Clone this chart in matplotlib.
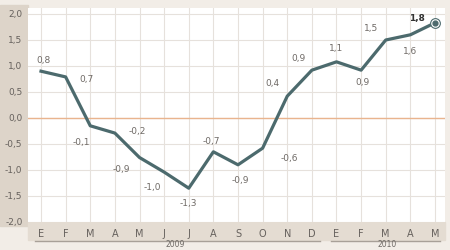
import matplotlib
matplotlib.use("Agg")
import matplotlib.pyplot as plt
from matplotlib.patches import Rectangle
import numpy as np

# data
months = ["E", "F", "M", "A", "M", "J", "J", "A", "S", "O", "N", "D",
          "E", "F", "M", "A", "M"]
values = [0.90, 0.79, -0.15, -0.29, -0.76, -1.04, -1.35, -0.65, -0.90,
          -0.58, 0.42, 0.92, 1.08, 0.92, 1.50, 1.60, 1.83]
labels = ["0,8", "0,7", "-0,1", "-0,2", "-0,9", "-1,0", "-1,3", "-0,7", "-0,9",
          "-0,6", "0,4", "0,9", "1,1", "0,9", "1,5", "1,6", "1,8"]
yticks = [-2.0, -1.5, -1.0, -0.5, 0.0, 0.5, 1.0, 1.5, 2.0]
years = ["2009", "2010"]

# label offsets in pixels (dx, dy)
offsets = [(2, 11), (21, -3), (-9, -17), (22, 2), (-18, -12), (-12, -15),
           (0, -15), (-2, 10), (2, -16), (27, -10), (-15, 13), (-13, 12),
           (0, 13), (1, -12), (-15, 11), (0, -17), (-18, 4)]

W, H = 450, 250
fig = plt.figure(figsize=(4.5, 2.5), dpi=100, facecolor="#f2ede7")

# background bands (behind the axes)
fig.patches.append(Rectangle((0, 1 - 226 / H), 28 / W, 221 / H,
                             transform=fig.transFigure, color="#ddd4c9", zorder=-2))
fig.patches.append(Rectangle((28 / W, 1 - 240 / H), 417 / W, 18 / H,
                             transform=fig.transFigure, color="#e4dcd2", zorder=-2))

ax = fig.add_axes([28 / W, 1 - 222 / H, 417 / W, 214 / H])
ax.set_facecolor("white")
x = np.arange(len(values))
ax.set_xlim(-13 / 24.6, len(values) - 1 + 10 / 24.6)
ax.set_ylim(-2.0, 2.0 + 6 / 52)

ax.set_xticks(x)
ax.set_xticklabels(months)
ax.set_yticks(yticks)
ax.set_yticklabels([("%.1f" % v).replace(".", ",") for v in yticks])
ax.tick_params(axis="both", length=0, colors="#66615d", labelsize=6.5)
ax.tick_params(axis="x", pad=5, labelsize=7)
ax.tick_params(axis="y", pad=4)
for s in ax.spines.values():
    s.set_visible(False)
ax.grid(True, color="#e6e1dc", linewidth=0.8)
ax.set_axisbelow(True)
ax.axhline(0, color="#e9b48e", linewidth=1.0, zorder=1)

ax.plot(x, values, color="#4c6a6d", linewidth=2.3, solid_joinstyle="round", zorder=3)
ax.plot(x[-1], values[-1], "o", markersize=7, markerfacecolor="white",
        markeredgecolor="#4c6a6d", markeredgewidth=0.8, zorder=4)
ax.plot(x[-1], values[-1], "o", markersize=3.5, color="#4c6a6d", zorder=5)

for i, (lab, off) in enumerate(zip(labels, offsets)):
    last = i == len(labels) - 1
    ax.annotate(lab, (x[i], values[i]), xytext=off, textcoords="offset pixels",
                ha="center", va="center", fontsize=6.5,
                color="#333333" if last else "#6f6a66",
                fontweight="bold" if last else "normal")

# year brackets
fig.add_artist(plt.Line2D([35 / W, 320 / W], [1 - 241 / H] * 2,
                          transform=fig.transFigure, color="#a8a098", linewidth=1))
fig.add_artist(plt.Line2D([331 / W, 440 / W], [1 - 241 / H] * 2,
                          transform=fig.transFigure, color="#a8a098", linewidth=1))
fig.text(175 / W, 1 - 249 / H, years[0], ha="center", va="bottom",
         fontsize=5.5, color="#6f6a66")
fig.text(387 / W, 1 - 249 / H, years[1], ha="center", va="bottom",
         fontsize=5.5, color="#6f6a66")

fig.savefig("out.png", dpi=100, facecolor=fig.get_facecolor())
